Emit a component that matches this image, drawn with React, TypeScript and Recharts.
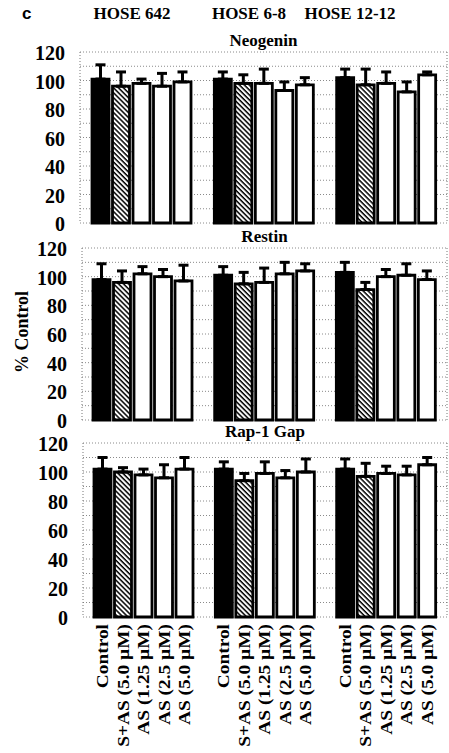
import React from "react";
import { BarChart, Bar, XAxis, YAxis, CartesianGrid, ErrorBar, LabelList } from "recharts";

const cellLines = ["HOSE 642", "HOSE 6-8", "HOSE 12-12"];
const treatments = ["Control", "S+AS (5.0 µM)", "AS (1.25 µM)", "AS (2.5 µM)", "AS (5.0 µM)"];
const yTicks = [0, 10, 20, 30, 40, 50, 60, 70, 80, 90, 100, 110, 120];

// mean % control, one row per cell line, one column per treatment
const neogeninMean = [
  [101, 96, 98, 96, 99],
  [101, 98, 98, 93, 97],
  [102, 97, 98, 92, 104],
];
const neogeninErr = [
  [10, 10, 3, 9, 7],
  [5, 6, 10, 6, 5],
  [6, 11, 8, 7, 2],
];
const restinMean = [
  [98, 96, 102, 100, 97],
  [101, 95, 96, 102, 104],
  [103, 91, 100, 101, 98],
];
const restinErr = [
  [11, 8, 5, 5, 11],
  [6, 8, 10, 8, 5],
  [7, 5, 5, 8, 6],
];
const rapMean = [
  [102, 100, 98, 96, 102],
  [102, 94, 99, 96, 100],
  [102, 97, 99, 98, 105],
];
const rapErr = [
  [8, 3, 4, 9, 8],
  [5, 5, 8, 5, 9],
  [7, 9, 5, 6, 5],
];

const FONT = "'Liberation Serif', 'Times New Roman', serif";
const fills = ["#000", "url(#hatch)", "#fff", "#fff", "#fff"];

const buildRows = (mean: number[][], err: number[][]) =>
  cellLines.map((line, r) => {
    const row: any = { line };
    mean[r].forEach((v, i) => {
      row[`m${i}`] = v;
      row[`e${i}`] = err[r][i];
    });
    return row;
  });

const YTick = ({ x, y, payload }: any) => {
  if (payload.value % 20 !== 0) return <g />;
  return (
    <text x={x - 7} y={y + 1} textAnchor="end" dominantBaseline="central"
      fontFamily={FONT} fontWeight="bold" fontSize={20} fill="#000">
      {payload.value}
    </text>
  );
};

interface PanelProps {
  title: string;
  mean: number[][];
  err: number[][];
  top: number;
  left: number;
  plotH: number;
  labels?: boolean;
}

function Panel({ title, mean, err, top, left, plotH, labels }: PanelProps) {
  const data = buildRows(mean, err);
  const padTop = 12;
  const bottom = labels ? 140 : 12;
  return (
    <div style={{ position: "absolute", left: 0, top: top - padTop }}>
      <div style={{
        position: "absolute", left, width: 447 - left, top: padTop - 20, textAlign: "center",
        fontFamily: FONT, fontWeight: "bold", fontSize: 17, lineHeight: "18px", color: "#000",
      }}>
        {title}
      </div>
      <BarChart width={449} height={plotH + padTop + bottom} data={data}
        margin={{ top: padTop, right: 1, left: 0, bottom }} barGap={3.5}>
        <CartesianGrid vertical={false} stroke="#8a8a8a" strokeDasharray="1 2" />
        <XAxis dataKey="line" hide />
        <YAxis domain={[0, 120]} ticks={yTicks} interval={0} width={left} tick={<YTick />}
          tickLine={false} axisLine={{ stroke: "#777", strokeDasharray: "1 2" }} />
        <YAxis yAxisId="r" orientation="right" domain={[0, 120]} width={1} tick={false}
          tickLine={false} axisLine={{ stroke: "#777", strokeDasharray: "1 2" }} />
        {treatments.map((t, i) => (
          <Bar key={t} dataKey={`m${i}`} fill={fills[i]} stroke="#000" strokeWidth={2.8}
            barSize={17} isAnimationActive={false}>
            <ErrorBar dataKey={(d: any) => [0, d[`e${i}`]]} direction="y" width={5}
              stroke="#000" strokeWidth={3} />
            {labels && (
              <LabelList dataKey={`m${i}`} content={(p: any) => {
                const cx = p.x + p.width / 2;
                const by = p.y + p.height + 7;
                // long, narrow lettering like the scanned figure
                return (
                  <text x={0} y={0} transform={`translate(${cx},${by}) rotate(-90) scale(1.14,1)`}
                    textAnchor="end" dominantBaseline="central" fontFamily={FONT}
                    fontWeight="bold" fontSize={17} fill="#000">
                    {t}
                  </text>
                );
              }} />
            )}
          </Bar>
        ))}
      </BarChart>
    </div>
  );
}

export default function App() {
  return (
    <div style={{ position: "absolute", left: 0, top: 0, width: 449, height: 753, background: "#fff", overflow: "hidden" }}>
      <svg width={0} height={0} style={{ position: "absolute" }}>
        <defs>
          <pattern id="hatch" width={3.5} height={3.5} patternUnits="userSpaceOnUse" patternTransform="rotate(-45)">
            <rect width={3.5} height={3.5} fill="#fff" />
            <line x1={1} y1={0} x2={1} y2={3.5} stroke="#000" strokeWidth={1.5} />
          </pattern>
        </defs>
      </svg>
      <div style={{ position: "absolute", left: 22, top: 4, fontFamily: "'Liberation Sans', Arial, sans-serif", fontWeight: "bold", fontSize: 17 }}>c</div>
      {cellLines.map((c, i) => (
        <div key={c} style={{
          position: "absolute", left: [132, 249, 350][i] - 60, width: 120, top: 4, textAlign: "center",
          fontFamily: FONT, fontWeight: "bold", fontSize: 17, whiteSpace: "nowrap",
        }}>{c}</div>
      ))}
      <div style={{
        position: "absolute", left: 22, top: 332, transform: "translate(-50%, -50%) rotate(-90deg)",
        fontFamily: FONT, fontWeight: "bold", fontSize: 18, whiteSpace: "nowrap",
      }}>% Control</div>
      <Panel title="Neogenin" mean={neogeninMean} err={neogeninErr} top={52} left={80} plotH={171} />
      <Panel title="Restin" mean={restinMean} err={restinErr} top={248} left={82} plotH={172} />
      <Panel title="Rap-1 Gap" mean={rapMean} err={rapErr} top={443} left={83} plotH={174} labels />
    </div>
  );
}
